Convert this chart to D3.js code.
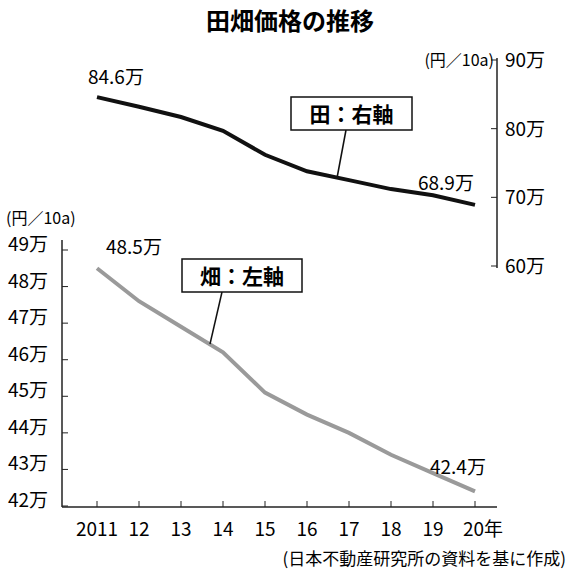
<!DOCTYPE html>
<html><head><meta charset="utf-8">
<script src="https://cdn.jsdelivr.net/npm/d3@7"></script>
<style>body{margin:0;background:#fff}text{font-family:"Noto Sans CJK JP","Noto Sans",sans-serif}</style>
</head><body><svg id="c" width="572" height="584"></svg>
<script>
// data
const years = [2011,2012,2013,2014,2015,2016,2017,2018,2019,2020];
const yearLabels = ['2011','12','13','14','15','16','17','18','19','20年'];
const paddy = [84.6,83.2,81.7,79.7,76.2,73.8,72.5,71.2,70.3,68.9];   // 田 (right axis)
const field = [48.5,47.6,46.9,46.2,45.1,44.5,44.0,43.4,42.9,42.4];   // 畑 (left axis)
const leftTicks = [42,43,44,45,46,47,48,49];
const rightTicks = [60,70,80,90];

const svg = d3.select('#c');
const x = d3.scaleLinear().domain([2011,2020]).range([97,475]);
const yL = d3.scaleLinear().domain([42,49]).range([506,250]);
const yR = d3.scaleLinear().domain([60,90]).range([266,60]);

svg.append('text').attr('x',290).attr('y',30).attr('text-anchor','middle')
  .attr('font-size',24).attr('font-weight','bold').text('田畑価格の推移');

// x axis
svg.append('line').attr('x1',62).attr('x2',497).attr('y1',507).attr('y2',507).attr('stroke','#222').attr('stroke-width',1.5);
years.forEach((yr,i)=>{
  svg.append('line').attr('x1',x(yr)).attr('x2',x(yr)).attr('y1',507).attr('y2',501).attr('stroke','#222');
  svg.append('text').attr('x',x(yr)+(i===9?8:0)).attr('y',536).attr('text-anchor','middle').attr('font-size',19).text(yearLabels[i]);
});

// left axis
svg.append('line').attr('x1',62).attr('x2',62).attr('y1',240).attr('y2',507).attr('stroke','#222').attr('stroke-width',1.5);
leftTicks.forEach(t=>{
  svg.append('line').attr('x1',62).attr('x2',68).attr('y1',yL(t)).attr('y2',yL(t)).attr('stroke','#222');
  svg.append('text').attr('x',8).attr('y',yL(t)+1).attr('font-size',19).text(t+'万');
});
svg.append('text').attr('x',6).attr('y',224).attr('font-size',16).text('(円／10a)');

// right axis
svg.append('line').attr('x1',497).attr('x2',497).attr('y1',58).attr('y2',268).attr('stroke','#222').attr('stroke-width',1.5);
rightTicks.forEach(t=>{
  svg.append('line').attr('x1',491).attr('x2',497).attr('y1',yR(t)).attr('y2',yR(t)).attr('stroke','#222');
  svg.append('text').attr('x',505).attr('y',yR(t)+7).attr('font-size',19).text(t+'万');
});
svg.append('text').attr('x',494).attr('y',66).attr('text-anchor','end').attr('font-size',16).text('(円／10a)');

// lines
svg.append('path').datum(field).attr('fill','none').attr('stroke','#9a9a9a').attr('stroke-width',4)
  .attr('d',d3.line().x((d,i)=>x(years[i])).y(d=>yL(d)));
svg.append('path').datum(paddy).attr('fill','none').attr('stroke','#111').attr('stroke-width',4)
  .attr('d',d3.line().x((d,i)=>x(years[i])).y(d=>yR(d)));

// value labels
svg.append('text').attr('x',88).attr('y',84).attr('font-size',19).text(paddy[0]+'万');
svg.append('text').attr('x',418).attr('y',190).attr('font-size',19).text(paddy[9]+'万');
svg.append('text').attr('x',106).attr('y',254).attr('font-size',19).text(field[0]+'万');
svg.append('text').attr('x',430).attr('y',474).attr('font-size',19).text(field[9]+'万');

// callouts
function callout(bx,by,w,h,label,px,py,tx,ty){
  svg.append('line').attr('x1',px).attr('y1',py).attr('x2',tx).attr('y2',ty).attr('stroke','#111').attr('stroke-width',1.5);
  svg.append('rect').attr('x',bx).attr('y',by).attr('width',w).attr('height',h).attr('fill','#fff').attr('stroke','#111').attr('stroke-width',1.5);
  svg.append('text').attr('x',bx+w/2).attr('y',by+h/2+8).attr('text-anchor','middle').attr('font-size',21).attr('font-weight','bold').text(label);
}
callout(291,97,121,33,'田：右軸',346,130,337,178);
callout(182,259,120,33,'畑：左軸',222,292,210,344);

svg.append('text').attr('x',566).attr('y',565).attr('text-anchor','end').attr('font-size',17).text('(日本不動産研究所の資料を基に作成)');
</script></body></html>
